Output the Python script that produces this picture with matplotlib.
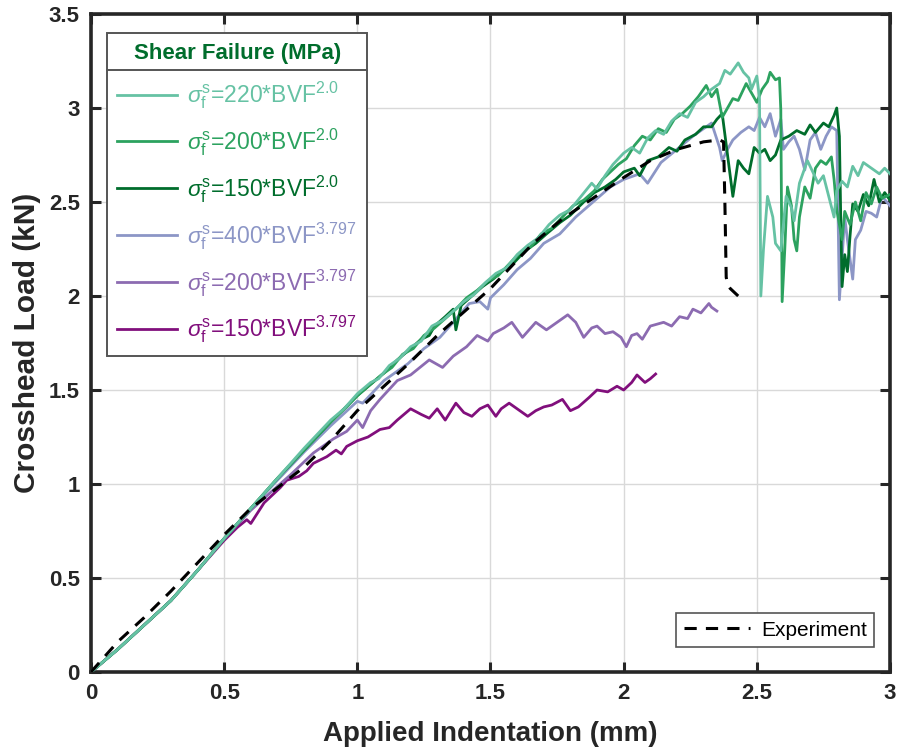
import matplotlib
matplotlib.use("Agg")
import matplotlib.pyplot as plt
from matplotlib.lines import Line2D
from matplotlib.ticker import FormatStrFormatter

plt.rcParams['font.family'] = ['Liberation Sans', 'DejaVu Sans']
plt.rcParams['mathtext.fontset'] = 'custom'
plt.rcParams['mathtext.rm'] = 'Liberation Sans'
plt.rcParams['mathtext.it'] = 'Liberation Sans:italic'
plt.rcParams['mathtext.bf'] = 'Liberation Sans:bold'

# ---------------- data ----------------
x_teal = [0, 0.1, 0.2, 0.3, 0.4, 0.5, 0.6, 0.7, 0.8, 0.9, 0.95, 1.0, 1.05, 1.08, 1.12, 1.16, 1.2, 1.24, 1.28,
          1.32, 1.36, 1.4, 1.44, 1.48, 1.52, 1.56, 1.6, 1.64, 1.68, 1.72, 1.76, 1.8, 1.84, 1.88, 1.9, 1.93, 1.96,
          2.0, 2.03, 2.06, 2.09, 2.12, 2.15, 2.18, 2.21, 2.24, 2.27, 2.3, 2.33, 2.36, 2.38, 2.4, 2.43, 2.45,
          2.47, 2.48, 2.5, 2.51, 2.515, 2.525, 2.54, 2.56, 2.57, 2.59, 2.61, 2.63, 2.64, 2.66, 2.69, 2.71, 2.73,
          2.75, 2.77, 2.79, 2.8, 2.82, 2.84, 2.86, 2.88, 2.9, 2.93, 2.96, 2.98, 3.0]
y_teal = [0, 0.12, 0.25, 0.38, 0.54, 0.71, 0.87, 1.03, 1.19, 1.34, 1.40, 1.48, 1.54, 1.56, 1.63, 1.67, 1.73, 1.76, 1.84,
          1.87, 1.92, 1.97, 2.01, 2.07, 2.12, 2.15, 2.22, 2.27, 2.31, 2.38, 2.43, 2.46, 2.53, 2.60, 2.57, 2.64, 2.70,
          2.76, 2.79, 2.76, 2.84, 2.88, 2.86, 2.93, 2.97, 2.95, 3.03, 3.06, 3.10, 3.13, 3.20, 3.18, 3.24, 3.19,
          3.16, 3.10, 3.17, 3.05, 2.00, 2.25, 2.53, 2.42, 2.28, 2.24, 2.53, 2.47, 2.40, 2.60, 2.72, 2.66, 2.60,
          2.64, 2.53, 2.42, 2.56, 2.61, 2.58, 2.69, 2.64, 2.71, 2.68, 2.65, 2.68, 2.65]

x_green = [0, 0.1, 0.2, 0.3, 0.4, 0.5, 0.6, 0.7, 0.8, 0.9, 0.96, 1.0, 1.04, 1.09, 1.13, 1.17, 1.21, 1.25, 1.29,
           1.33, 1.37, 1.41, 1.45, 1.49, 1.53, 1.57, 1.61, 1.65, 1.69, 1.73, 1.77, 1.81, 1.85, 1.89, 1.92, 1.95,
           1.98, 2.01, 2.04, 2.07, 2.1, 2.13, 2.16, 2.19, 2.22, 2.25, 2.28, 2.31, 2.33, 2.35, 2.37, 2.39, 2.41,
           2.43, 2.46, 2.48, 2.5, 2.52, 2.54, 2.55, 2.57, 2.585, 2.59, 2.595, 2.605, 2.615, 2.63, 2.64, 2.65,
           2.66, 2.68, 2.7, 2.72, 2.74, 2.76, 2.78, 2.79, 2.8, 2.82, 2.83, 2.85, 2.87, 2.89, 2.91, 2.93, 2.95,
           2.97, 3.0]
y_green = [0, 0.12, 0.25, 0.38, 0.54, 0.71, 0.87, 1.03, 1.18, 1.33, 1.41, 1.47, 1.52, 1.58, 1.62, 1.69, 1.72, 1.79, 1.83,
           1.88, 1.93, 1.99, 2.03, 2.08, 2.11, 2.17, 2.23, 2.26, 2.33, 2.36, 2.42, 2.48, 2.51, 2.56, 2.62, 2.66,
           2.70, 2.73, 2.80, 2.85, 2.83, 2.89, 2.87, 2.94, 2.97, 3.01, 3.06, 3.12, 3.06, 3.10, 2.95, 3.00, 3.05,
           3.04, 3.13, 3.08, 3.03, 3.10, 3.14, 3.19, 3.15, 3.16, 2.99, 1.97, 2.25, 2.58, 2.48, 2.30, 2.24,
           2.42, 2.58, 2.52, 2.68, 2.72, 2.70, 2.74, 2.62, 2.46, 2.30, 2.45, 2.38, 2.50, 2.40, 2.55, 2.49, 2.58,
           2.52, 2.54]

x_dkgreen = [0, 0.1, 0.2, 0.3, 0.4, 0.5, 0.6, 0.7, 0.8, 0.9, 0.95, 1.0, 1.05, 1.1, 1.15, 1.2, 1.24, 1.27, 1.29,
             1.33, 1.36, 1.37, 1.39, 1.43, 1.47, 1.51, 1.55, 1.59, 1.63, 1.67, 1.71, 1.76, 1.8, 1.85, 1.89, 1.93,
             1.97, 2.0, 2.04, 2.06, 2.09, 2.13, 2.17, 2.2, 2.23, 2.27, 2.3, 2.33, 2.35, 2.37, 2.39, 2.41, 2.43,
             2.45, 2.47, 2.49, 2.51, 2.53, 2.55, 2.57, 2.59, 2.62, 2.65, 2.68, 2.7, 2.72, 2.75, 2.77, 2.79, 2.8,
             2.81, 2.815, 2.82, 2.83, 2.84, 2.85, 2.86, 2.88, 2.9, 2.92, 2.94, 2.96, 2.98, 3.0]
y_dkgreen = [0, 0.12, 0.25, 0.38, 0.54, 0.71, 0.87, 1.03, 1.18, 1.33, 1.40, 1.47, 1.53, 1.59, 1.66, 1.72, 1.77, 1.79, 1.84,
             1.89, 1.93, 1.82, 1.95, 2.00, 2.05, 2.09, 2.14, 2.18, 2.24, 2.28, 2.33, 2.39, 2.43, 2.50, 2.55, 2.58,
             2.62, 2.66, 2.68, 2.64, 2.72, 2.74, 2.79, 2.77, 2.83, 2.86, 2.90, 2.90, 2.94, 2.97, 2.75, 2.53, 2.72,
             2.68, 2.65, 2.79, 2.76, 2.78, 2.72, 2.75, 2.83, 2.85, 2.88, 2.86, 2.91, 2.87, 2.92, 2.90, 2.96, 3.00,
             2.85, 2.42, 2.05, 2.22, 2.13, 2.32, 2.49, 2.45, 2.54, 2.48, 2.62, 2.50, 2.55, 2.51]

x_lav = [0, 0.1, 0.2, 0.3, 0.4, 0.5, 0.6, 0.7, 0.8, 0.9, 1.0, 1.02, 1.1, 1.19, 1.25, 1.31, 1.36, 1.42, 1.46, 1.49,
         1.5, 1.55, 1.6, 1.65, 1.7, 1.76, 1.82, 1.885, 1.95, 2.0, 2.06, 2.09, 2.14, 2.2, 2.26, 2.31, 2.33, 2.36,
         2.37, 2.39, 2.41, 2.44, 2.47, 2.49, 2.51, 2.53, 2.55, 2.57, 2.59, 2.6, 2.62, 2.64, 2.66, 2.68, 2.7,
         2.72, 2.74, 2.76, 2.78, 2.8, 2.81, 2.83, 2.84, 2.86, 2.87, 2.89, 2.91, 2.93, 2.95, 2.97, 3.0]
y_lav = [0, 0.12, 0.25, 0.38, 0.54, 0.71, 0.87, 1.02, 1.17, 1.31, 1.44, 1.43, 1.55, 1.64, 1.72, 1.78, 1.86, 1.96, 1.97, 1.93,
         1.99, 2.06, 2.14, 2.20, 2.28, 2.33, 2.42, 2.50, 2.58, 2.62, 2.65, 2.60, 2.71, 2.78, 2.85, 2.90, 2.92, 2.79,
         2.72, 2.78, 2.83, 2.87, 2.90, 2.88, 2.95, 2.90, 2.97, 2.85, 2.94, 2.78, 2.82, 2.85, 2.78, 2.67, 2.83,
         2.87, 2.78, 2.85, 2.90, 2.88, 1.98, 2.42, 2.30, 2.09, 2.30, 2.35, 2.45, 2.44, 2.42, 2.53, 2.48]

x_purp = [0, 0.1, 0.2, 0.3, 0.4, 0.5, 0.6, 0.67, 0.75, 0.835, 0.91, 0.96, 1.0, 1.02, 1.05, 1.085, 1.15, 1.2, 1.27,
          1.32, 1.36, 1.41, 1.45, 1.49, 1.51, 1.55, 1.58, 1.62, 1.67, 1.69, 1.71, 1.75, 1.79, 1.82, 1.85, 1.88,
          1.9, 1.93, 1.96, 1.99, 2.01, 2.03, 2.05, 2.07, 2.1, 2.15, 2.18, 2.21, 2.24, 2.26, 2.29, 2.32, 2.33, 2.35]
y_purp = [0, 0.12, 0.25, 0.38, 0.54, 0.71, 0.86, 0.95, 1.05, 1.165, 1.24, 1.28, 1.34, 1.30, 1.39, 1.45, 1.55, 1.58, 1.66,
          1.62, 1.68, 1.73, 1.79, 1.76, 1.80, 1.83, 1.86, 1.78, 1.86, 1.84, 1.82, 1.86, 1.90, 1.86, 1.78, 1.83,
          1.84, 1.80, 1.81, 1.78, 1.73, 1.79, 1.80, 1.77, 1.84, 1.86, 1.84, 1.89, 1.88, 1.93, 1.91, 1.96, 1.94, 1.92]

x_dkpurp = [0, 0.1, 0.2, 0.3, 0.4, 0.5, 0.55, 0.585, 0.6, 0.65, 0.71, 0.735, 0.78, 0.81, 0.835, 0.885, 0.92, 0.94,
            0.96, 1.0, 1.04, 1.085, 1.12, 1.15, 1.2, 1.24, 1.27, 1.3, 1.33, 1.37, 1.4, 1.43, 1.46, 1.49, 1.52, 1.54,
            1.57, 1.6, 1.64, 1.67, 1.7, 1.73, 1.77, 1.8, 1.83, 1.87, 1.9, 1.94, 1.975, 2.0, 2.03, 2.05, 2.08, 2.1,
            2.12]
y_dkpurp = [0, 0.12, 0.25, 0.38, 0.54, 0.70, 0.77, 0.81, 0.79, 0.90, 0.98, 1.02, 1.04, 1.07, 1.11, 1.145, 1.18, 1.16,
            1.20, 1.23, 1.25, 1.29, 1.30, 1.34, 1.40, 1.37, 1.35, 1.40, 1.34, 1.43, 1.38, 1.36, 1.40, 1.42, 1.36, 1.40,
            1.43, 1.40, 1.36, 1.39, 1.41, 1.42, 1.45, 1.39, 1.41, 1.46, 1.50, 1.49, 1.52, 1.50, 1.54, 1.58, 1.54, 1.56,
            1.585]

x_exp = [0, 0.1, 0.2, 0.3, 0.4, 0.5, 0.6, 0.7, 0.8, 0.9, 1.0, 1.1, 1.2, 1.3, 1.5, 1.66, 1.77, 2.0, 2.1, 2.2, 2.3,
         2.36, 2.375, 2.38, 2.385, 2.39, 2.40, 2.43]
y_exp = [0, 0.16, 0.29, 0.43, 0.58, 0.73, 0.87, 0.98, 1.09, 1.23, 1.39, 1.52, 1.65, 1.79, 2.04, 2.28, 2.41, 2.63, 2.72,
         2.78, 2.82, 2.83, 2.82, 2.50, 2.10, 2.06, 2.04, 2.00]

labels = [r'$\sigma_{\mathrm{f}}^{\mathrm{s}}$=220*BVF$^{2.0}$',
          r'$\sigma_{\mathrm{f}}^{\mathrm{s}}$=200*BVF$^{2.0}$',
          r'$\sigma_{\mathrm{f}}^{\mathrm{s}}$=150*BVF$^{2.0}$',
          r'$\sigma_{\mathrm{f}}^{\mathrm{s}}$=400*BVF$^{3.797}$',
          r'$\sigma_{\mathrm{f}}^{\mathrm{s}}$=200*BVF$^{3.797}$',
          r'$\sigma_{\mathrm{f}}^{\mathrm{s}}$=150*BVF$^{3.797}$']
colors = ['#66c2a4', '#2ca25f', '#006d2c', '#8c96c6', '#8c6bb1', '#810f7c']
legend_title = 'Shear Failure (MPa)'
exp_label = 'Experiment'
x_ticks = [0, 0.5, 1, 1.5, 2, 2.5, 3]
y_ticks = [0, 0.5, 1, 1.5, 2, 2.5, 3, 3.5]

# ---------------- plot ----------------
fig = plt.figure(figsize=(8.98, 7.53), dpi=100)
ax = fig.add_axes([91 / 898, 1 - 672 / 753, 799 / 898, 658 / 753])

series = [(x_teal, y_teal), (x_green, y_green), (x_dkgreen, y_dkgreen),
          (x_lav, y_lav), (x_purp, y_purp), (x_dkpurp, y_dkpurp)]
order = [5, 4, 3, 2, 1, 0]
handles = [None] * 6
for i in order:
    xs, ys = series[i]
    h, = ax.plot(xs, ys, color=colors[i], lw=2.0, label=labels[i], zorder=3 + (5 - i) * 0.1)
    handles[i] = h
hexp, = ax.plot(x_exp, y_exp, color='black', lw=2.2, ls=(0, (4, 3)), label=exp_label, zorder=4)

ax.set_xlim(0, 3)
ax.set_ylim(0, 3.5)
ax.set_xticks(x_ticks)
ax.set_yticks(y_ticks)
ax.xaxis.set_major_formatter(FormatStrFormatter('%g'))
ax.yaxis.set_major_formatter(FormatStrFormatter('%g'))
ax.grid(True, color='#d9d9d9', lw=1.0)
ax.set_axisbelow(True)
for s in ax.spines.values():
    s.set_linewidth(2.6)
    s.set_color('#262626')
ax.tick_params(direction='in', length=7, width=2.2, top=True, right=True,
               labelsize=16, pad=8, color='#262626')
for lab in ax.get_xticklabels() + ax.get_yticklabels():
    lab.set_fontweight('bold')
    lab.set_color('#262626')
ax.set_xlabel('Applied Indentation (mm)', fontsize=20, fontweight='bold', labelpad=12, color='#262626')
ax.set_ylabel('Crosshead Load (kN)', fontsize=21.5, fontweight='bold', labelpad=6, color='#262626')

leg = ax.legend(handles=handles, loc='upper left', bbox_to_anchor=(0.02, 0.971), borderaxespad=0,
                title=legend_title, title_fontproperties={'weight': 'bold', 'size': 16},
                fontsize=16.5, handlelength=2.6, handletextpad=0.45, labelspacing=0.66,
                borderpad=0.45, fancybox=False, framealpha=1, edgecolor='#555555')
leg.get_frame().set_linewidth(1.4)
leg.get_title().set_color('#006d2c')
for t, c in zip(leg.get_texts(), colors):
    t.set_color(c)
ax.add_artist(leg)

leg2 = ax.legend(handles=[hexp], loc='lower right', bbox_to_anchor=(0.98, 0.038), borderaxespad=0,
                 fontsize=15, handlelength=3.2, handletextpad=0.5, borderpad=0.35,
                 fancybox=False, framealpha=1, edgecolor='#555555')
leg2.get_frame().set_linewidth(1.2)

# separator line under the legend title
fig.canvas.draw()
r = fig.canvas.get_renderer()
bb = leg.get_frame().get_window_extent(r)
tb = leg.get_title().get_window_extent(r)
ysep = tb.y0 - 6
inv = fig.transFigure.inverted()
(x0f, yf) = inv.transform((bb.x0, ysep))
(x1f, _) = inv.transform((bb.x1, ysep))
fig.add_artist(Line2D([x0f, x1f], [yf, yf], color='#555555', lw=1.4, zorder=10))

fig.savefig('out.png', dpi=100)
